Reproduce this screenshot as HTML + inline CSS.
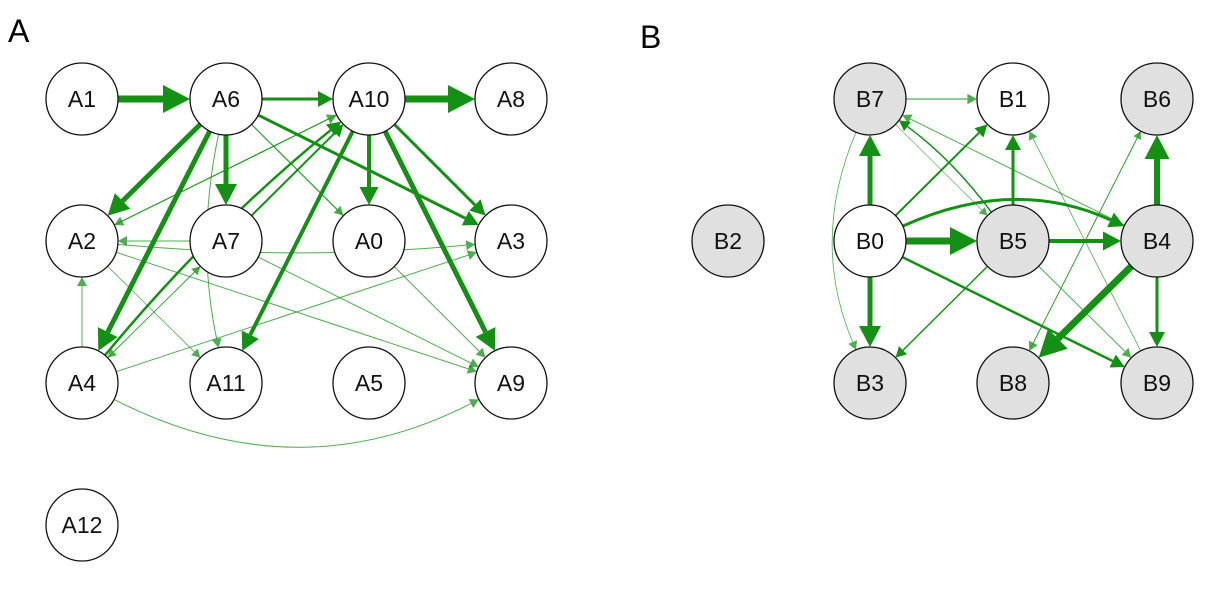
<!DOCTYPE html>
<html><head><meta charset="utf-8"><style>
html,body{margin:0;padding:0;background:#fff;width:1228px;height:590px;overflow:hidden}
svg{display:block}
text{font-family:"Liberation Sans",Arial,sans-serif}
</style></head><body>
<svg id="s" width="1228" height="590" viewBox="0 0 1228 590" xmlns="http://www.w3.org/2000/svg">
<text x="8" y="42" font-size="32">A</text>
<text x="640" y="48" font-size="32">B</text>
<g id="edges"></g>
<g id="nodes"></g>
</svg>
<script>
var N={A1:[82,99,0],A6:[226,99,0],A10:[369,99,0],A8:[511,99,0],A2:[82,241,0],A7:[226,241,0],A0:[369,241,0],A3:[511,241,0],A4:[82,383,0],A11:[226,383,0],A5:[369,383,0],A9:[511,383,0],A12:[82,525,0],
B7:[870,99,1],B1:[1013,99,0],B6:[1157,99,1],B2:[728,241,1],B0:[870,241,0],B5:[1013,241,1],B4:[1157,241,1],B3:[870,383,1],B8:[1013,383,1],B9:[1157,383,1]};
var R=36;
var E=[["A1","A6",7,0],["A6","A10",3,0],["A10","A8",7,0],["A6","A2",5,0],["A6","A7",5,0],["A6","A4",5,0],["A6","A0",1,0],["A6","A3",3,0],["A6","A9",1,0],["A6","A11",1,30],
["A10","A0",4,0],["A10","A3",3,0],["A10","A9",5,0],["A10","A11",4,0],["A2","A10",1.2,0],["A7","A10",2,0],["A4","A10",2.5,-20],["A7","A2",1,0],["A2","A3",1,20],["A4","A2",1,0],["A4","A3",1,0],["A4","A9",1,110],["A7","A9",1,0],["A2","A9",1,0],["A4","A7",0.8,0],["A7","A4",0.8,0],["A2","A11",0.8,0],["A10","A2",1,0],
["B7","B1",1.2,0],["B0","B7",5,0],["B0","B1",2,0],["B0","B5",7,0],["B0","B4",3,-65],["B0","B3",5,0],["B0","B9",2.5,0],["B5","B1",3,0],["B5","B7",1.5,15],["B5","B4",4,0],["B5","B3",1.5,0],["B5","B9",1,0],["B4","B6",6,0],["B4","B8",7,0],["B4","B9",3,0],["B4","B7",1,0],["B9","B1",0.8,0],["B6","B8",1,0],["B8","B6",0.6,0],["B7","B3",0.8,60],["B7","B5",0.6,0]];
var ns="http://www.w3.org/2000/svg",eg=document.getElementById("edges"),ng=document.getElementById("nodes");
function el(t,a,p){var e=document.createElementNS(ns,t);for(var k in a)e.setAttribute(k,a[k]);p.appendChild(e);return e;}
var col="#149014";
E.forEach(function(e){var a=N[e[0]],b=N[e[1]],w=e[2],off=e[3];
var dx=b[0]-a[0],dy=b[1]-a[1],L=Math.hypot(dx,dy),ux=dx/L,uy=dy/L,px=-uy,py=ux;
var cx=(a[0]+b[0])/2+px*off,cy=(a[1]+b[1])/2+py*off;
var sx=cx-a[0],sy=cy-a[1],sl=Math.hypot(sx,sy);sx/=sl;sy/=sl;
var tx=b[0]-cx,ty=b[1]-cy,tl=Math.hypot(tx,ty);tx/=tl;ty/=tl;
var x0=a[0]+sx*R,y0=a[1]+sy*R,x1=b[0]-tx*R,y1=b[1]-ty*R;
var hl=3*w+6,hw=1.5*w+3.5;
var bx=x1-tx*hl,by=y1-ty*hl;
var op=w<1.5?0.75:1;
el("path",{d:"M"+x0+","+y0+" Q"+cx+","+cy+" "+bx+","+by,fill:"none",stroke:col,"stroke-width":w,"stroke-opacity":op},eg);
el("polygon",{points:x1+","+y1+" "+(bx-ty*hw)+","+(by+tx*hw)+" "+(bx+ty*hw)+","+(by-tx*hw),fill:col,"fill-opacity":op},eg);
});
for(var k in N){var n=N[k];el("circle",{cx:n[0],cy:n[1],r:R,fill:n[2]?"#e0e0e0":"#fff",stroke:"#111","stroke-width":1.3},ng);
var t=el("text",{x:n[0],y:n[1]+8,"font-size":23,"text-anchor":"middle",fill:"#111"},ng);t.textContent=k;}
</script>
</body></html>
